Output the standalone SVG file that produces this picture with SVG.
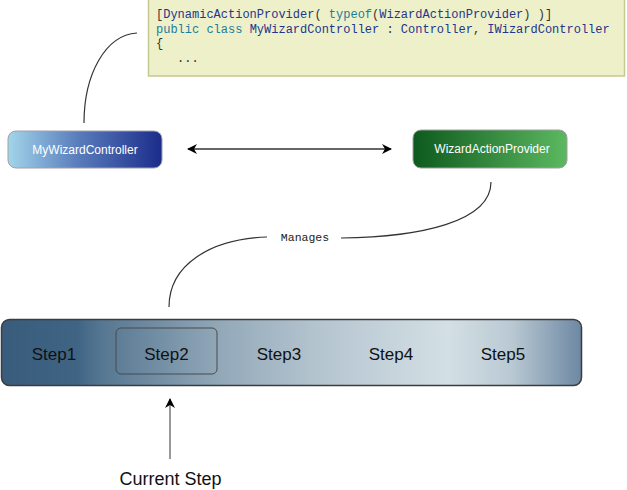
<svg xmlns="http://www.w3.org/2000/svg" width="627" height="490" viewBox="0 0 627 490">
<defs>
<linearGradient id="gBlue" x1="0" y1="0" x2="1" y2="0">
<stop offset="0" stop-color="#a2d5ea"/><stop offset="0.45" stop-color="#5a7dbc"/><stop offset="1" stop-color="#1b2c8a"/>
</linearGradient>
<linearGradient id="gGreen" x1="0" y1="0" x2="1" y2="0">
<stop offset="0" stop-color="#0e5a1e"/><stop offset="1" stop-color="#5cb860"/>
</linearGradient>
<linearGradient id="gBar" x1="0" y1="0" x2="1" y2="0">
<stop offset="0" stop-color="#395c7c"/><stop offset="0.13" stop-color="#3f6484"/><stop offset="0.17" stop-color="#557691"/>
<stop offset="0.38" stop-color="#93a9b9"/><stop offset="0.55" stop-color="#b5c5d0"/><stop offset="0.77" stop-color="#d3dfe4"/>
<stop offset="0.88" stop-color="#b9c9d3"/><stop offset="1" stop-color="#6d88a3"/>
</linearGradient>
<marker id="ah" viewBox="0 0 10 10" refX="9" refY="5" markerWidth="10" markerHeight="10" markerUnits="userSpaceOnUse" orient="auto-start-reverse">
<path d="M0,0 L10,5 L0,10 L3,5 Z" fill="#000"/>
</marker>
<style>
.code{font-family:"Liberation Mono","DejaVu Sans Mono",monospace;font-size:12px;fill:#333}
.k{fill:#1a7d9c}.t{fill:#23358c}
.node{font-family:"Liberation Sans",Arial,sans-serif;font-size:12px;fill:#fff;text-anchor:middle}
.step{font-family:"Liberation Sans",Arial,sans-serif;font-size:17px;fill:#111;text-anchor:middle}
.conn{fill:none;stroke:#333;stroke-width:1.2}
</style>
</defs>
<g id="codebox">
<rect x="148.5" y="-1" width="476" height="77" fill="#eef0ca" stroke="#c5c990" stroke-width="1.5"/>
<text class="code" x="156" y="18">[<tspan class="t">DynamicActionProvider</tspan>( <tspan class="k">typeof</tspan>(<tspan class="t">WizardActionProvider</tspan>) )]</text>
<text class="code" x="156" y="33"><tspan class="k">public class</tspan> <tspan class="t">MyWizardController</tspan> : <tspan class="t">Controller</tspan>, <tspan class="t">IWizardController</tspan></text>
<text class="code" x="156" y="47">{</text>
<text class="code" x="177" y="62">...</text>
</g>
<g id="mywizardcontroller">
<rect x="8" y="131" width="154" height="37" rx="8" fill="url(#gBlue)" stroke="#a0a0a8" stroke-width="1"/>
<text class="node" x="85" y="154">MyWizardController</text>
</g>
<g id="wizardactionprovider">
<rect x="413" y="130" width="154" height="38" rx="8" fill="url(#gGreen)" stroke="#a0a0a0" stroke-width="1"/>
<text class="node" x="492" y="153">WizardActionProvider</text>
</g>
<g id="steps">
<rect x="1.5" y="319.5" width="580" height="66" rx="8" fill="url(#gBar)" stroke="#3c3c3c" stroke-width="1.5"/>
<rect x="116" y="328" width="101" height="46" rx="5" fill="none" stroke="#4a4a4a" stroke-width="1"/>
<text class="step" x="54" y="360">Step1</text>
<text class="step" x="166.5" y="360">Step2</text>
<text class="step" x="279" y="360">Step3</text>
<text class="step" x="391" y="360">Step4</text>
<text class="step" x="503" y="360">Step5</text>
</g>
<g id="currentstep">
<text class="step" x="170.5" y="485" style="font-size:18px">Current Step</text>
</g>
<g id="connectors">
<path class="conn" d="M137,33 C105,35 84,75 84,123"/>
<line x1="188" y1="149" x2="391" y2="149" stroke="#666" stroke-width="2" marker-start="url(#ah)" marker-end="url(#ah)"/>
<path class="conn" d="M491,182 C491,222 420,237 341,238"/>
<path class="conn" d="M267,237 C210,239 169,265 169,307"/>
<text x="305" y="241" text-anchor="middle" style="font-family:'Liberation Mono','DejaVu Sans Mono',monospace;font-size:11.5px;fill:#222">Manages</text>
<line x1="170" y1="459" x2="170" y2="399" stroke="#777" stroke-width="1.5" marker-end="url(#ah)"/>
</g>
</svg>
